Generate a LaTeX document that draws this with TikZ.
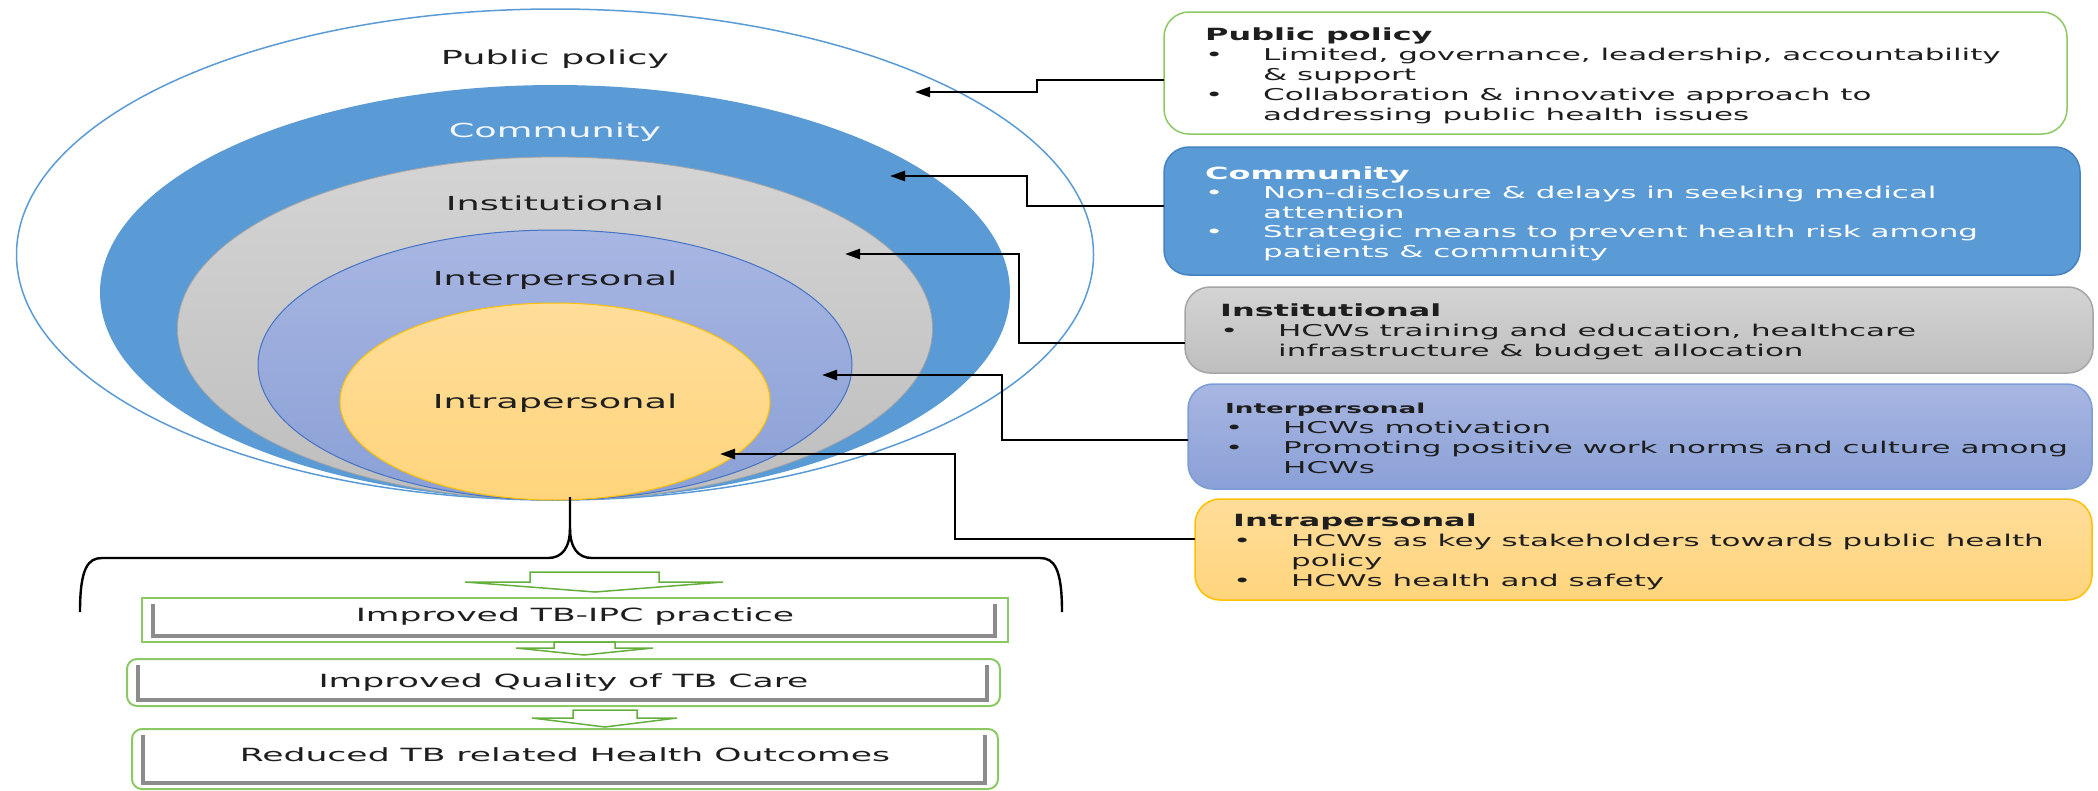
\documentclass[tikz,border=0pt]{standalone}
\usepackage{fontspec}
\usepackage{tikz}
\usetikzlibrary{shapes.geometric,arrows.meta}

\newfontfamily\widesans[FakeStretch=1.9]{DejaVu Sans}

\definecolor{ppblue}{RGB}{91,155,213}
\definecolor{comedge}{RGB}{70,130,195}
\definecolor{insgraytop}{RGB}{212,212,212}
\definecolor{insgraybot}{RGB}{190,190,190}
\definecolor{insedge}{RGB}{165,165,165}
\definecolor{intertop}{RGB}{168,182,226}
\definecolor{interbot}{RGB}{138,160,214}
\definecolor{interedge}{RGB}{68,114,196}
\definecolor{intratop}{RGB}{255,221,154}
\definecolor{intrabot}{RGB}{255,212,124}
\definecolor{intraedge}{RGB}{255,192,0}
\definecolor{outgreen}{RGB}{140,200,100}
\definecolor{arrowgreen}{RGB}{100,175,60}
\definecolor{textgray}{RGB}{30,30,30}

\newcommand\itm{\makebox[58pt][l]{\textbullet}}
\newcommand\cont{\hspace*{58pt}}
\newcommand\hdr[1]{{\fontsize{16.8}{20}\selectfont\bfseries #1}}

\begin{document}
\begin{tikzpicture}[x=1pt,y=-1pt]

%
% Styles
%
\tikzstyle{ring} = [ellipse,inner sep=0pt,outer sep=0pt]
\tikzstyle{ringlabel} = [anchor=base,inner sep=0pt,text=textgray,font=\widesans\fontsize{19.3}{23}\selectfont]
\tikzstyle{infobox} = [rectangle,rounded corners=25pt,inner sep=0pt,outer sep=0pt,line width=1.5pt]
\tikzstyle{infotext} = [anchor=base west,align=left,inner sep=0pt,text=textgray,font=\widesans\fontsize{16.3}{20}\selectfont]
\tikzstyle{outcome} = [rectangle,draw=outgreen,line width=2pt,fill=white,inner sep=0pt,outer sep=0pt,text=textgray,text height=13.5pt,font=\widesans\fontsize{18.2}{22}\selectfont]
\tikzstyle{bevelline} = [draw=black!45,line width=4pt]
\tikzstyle{link} = [draw=black,line width=2.4pt,-{Triangle[length=15pt,width=10pt]}]
\tikzstyle{bracestroke} = [draw=black,line width=2.4pt]
\tikzstyle{hollow} = [draw=arrowgreen,line width=1.5pt,fill=white]

\useasboundingbox (0,0) rectangle (2098,790);

% nested rings
\node[ring,draw=ppblue,line width=1.5pt,fill=white,minimum width=1077pt,minimum height=491pt] (pp) at (555,254.5) {};
\node[ring,fill=ppblue,minimum width=910pt,minimum height=415pt] (com) at (555,292.5) {};
\node[ring,draw=insedge,line width=0.8pt,top color=insgraytop,bottom color=insgraybot,minimum width=755pt,minimum height=343pt] (ins) at (555,328.5) {};
\node[ring,draw=interedge,line width=1pt,top color=intertop,bottom color=interbot,minimum width=594pt,minimum height=270pt] (inter) at (555,365) {};
\node[ring,draw=intraedge,line width=1pt,top color=intratop,bottom color=intrabot,minimum width=430pt,minimum height=197pt] (intra) at (555,401.5) {};

\node[ringlabel] (pplabel) at (555,64) {Public policy};
\node[ringlabel,text=white!92!ppblue] (comlabel) at (555,137) {Community};
\node[ringlabel] (inslabel) at (555,210) {Institutional};
\node[ringlabel] (interlabel) at (555,285) {Interpersonal};
\node[ringlabel] (intralabel) at (555,408) {Intrapersonal};

% boxes on the right
\node[infobox,draw=outgreen,fill=white,minimum width=903pt,minimum height=122pt] (ppbox) at (1615.5,73) {};
\node[infobox,draw=comedge,fill=ppblue,minimum width=916pt,minimum height=128pt] (combox) at (1622,211) {};
\node[infobox,draw=insedge,top color=insgraytop,bottom color=insgraybot,minimum width=908pt,minimum height=86pt] (insbox) at (1639,330) {};
\node[infobox,draw=interedge!70,top color=intertop,bottom color=interbot,minimum width=904pt,minimum height=105pt] (interbox) at (1640,436.5) {};
\node[infobox,draw=intraedge,top color=intratop,bottom color=intrabot,minimum width=897pt,minimum height=101pt] (intrabox) at (1643.5,549.5) {};

% texts, placed at the baseline of their last line
\node[infotext] (pptext) at (1205,120) {\hdr{Public policy}\\
  \itm Limited, governance, leadership, accountability\\
  \cont\& support\\
  \itm Collaboration \& innovative approach to\\
  \cont addressing public health issues};
\node[infotext,text=white,font=\widesans\fontsize{16.3}{19.4}\selectfont] (comtext) at (1205,257) {\hdr{Community}\\
  \itm Non-disclosure \& delays in seeking medical\\
  \cont attention\\
  \itm Strategic means to prevent health risk among\\
  \cont patients \& community};
\node[infotext] (instext) at (1220,356.7) {\hdr{Institutional}\\
  \itm HCWs training and education, healthcare\\
  \cont infrastructure \& budget allocation};
\node[infotext] (intertext) at (1225,473) {{\fontsize{13.8}{20}\selectfont\bfseries Interpersonal}\\
  \itm HCWs motivation\\
  \itm Promoting positive work norms and culture among\\
  \cont HCWs};
\node[infotext,font=\widesans\fontsize{16.3}{19.7}\selectfont] (intratext) at (1233,586) {\hdr{Intrapersonal}\\
  \itm HCWs as key stakeholders towards public health\\
  \cont policy\\
  \itm HCWs health and safety};

% elbow connectors
\coordinate (ppin) at (915,92);
\coordinate (comin) at (890,176);
\coordinate (insin) at (845,254);
\coordinate (interin) at (822,375);
\coordinate (intrain) at (720,454);

\draw[link] ([yshift=-7pt]ppbox.west) -- ++(-127,0) |- (ppin);
\draw[link] ([yshift=5pt]combox.west) -- ++(-137,0) |- (comin);
\draw[link] ([yshift=-13pt]insbox.west) -- ++(-166,0) |- (insin);
\draw[link] ([yshift=-3.5pt]interbox.west) -- ++(-186,0) |- (interin);
\draw[link] ([yshift=10.5pt]intrabox.west) -- ++(-240,0) |- (intrain);

% brace under the rings
\coordinate (stem) at (570,497);
\draw[bracestroke] (stem) -- (570,528) .. controls (570,548) and (562,558) .. (548,558) -- (102,558) .. controls (88,558) and (80,568) .. (80,612);
\draw[bracestroke] (570,528) .. controls (570,548) and (578,558) .. (592,558) -- (1040,558) .. controls (1054,558) and (1062,568) .. (1062,612);

% outcomes
\node[outcome,minimum width=866pt,minimum height=44pt,text depth=10.3pt] (ipc) at (575,620) {Improved TB-IPC practice};
\node[outcome,rounded corners=10pt,minimum width=873pt,minimum height=47pt,text depth=4.3pt] (care) at (563.5,682.5) {Improved Quality of TB Care};
\node[outcome,rounded corners=10pt,minimum width=866pt,minimum height=60pt,text depth=9.3pt] (outc) at (565,759) {Reduced TB related Health Outcomes};

\foreach \b in {ipc,care,outc}
  \draw[bevelline] ([xshift=11pt,yshift=-6pt]\b.north west) -- ([xshift=11pt,yshift=6pt]\b.south west)
    -- ([xshift=-13pt,yshift=6pt]\b.south east) -- ([xshift=-13pt,yshift=-6pt]\b.north east);

\draw[hollow] (530,572) -- (659,572) -- (659,582) -- (723,582) -- (595,592) -- (465,582) -- (530,582) -- cycle;
\draw[hollow] (554,642) -- (615,642) -- (615,648) -- (653,648) -- (584,655) -- (516,648) -- (554,648) -- cycle;
\draw[hollow] (573,710) -- (637,710) -- (637,718) -- (677,718) -- (605,727) -- (532,718) -- (573,718) -- cycle;

\end{tikzpicture}
\end{document}
